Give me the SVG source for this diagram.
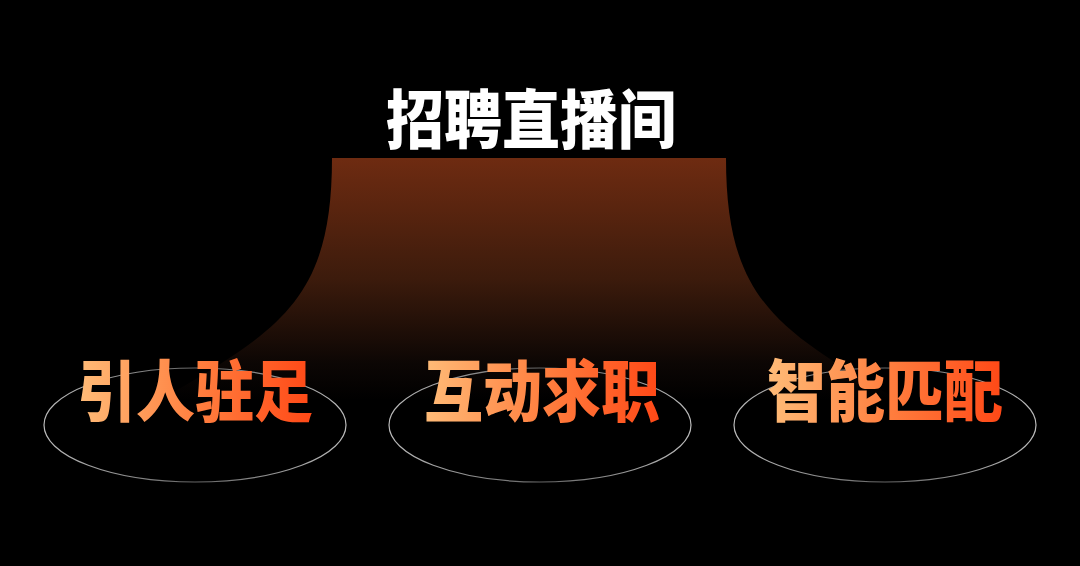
<svg xmlns="http://www.w3.org/2000/svg" width="1080" height="566" viewBox="0 0 1080 566">
<defs>
<linearGradient id="cone" x1="0" y1="158" x2="0" y2="400" gradientUnits="userSpaceOnUse">
<stop offset="0" stop-color="#6E2B11"/>
<stop offset="0.5" stop-color="#3C1B0C"/>
<stop offset="0.85" stop-color="#0C0604"/>
<stop offset="1" stop-color="#000000"/>
</linearGradient>
<linearGradient id="txt" x1="0" y1="0" x2="1" y2="0">
<stop offset="0" stop-color="#FFBC78"/>
<stop offset="0.5" stop-color="#FF8040"/>
<stop offset="1" stop-color="#FF4816"/>
</linearGradient>
<linearGradient id="ring" x1="0" y1="0" x2="1" y2="0">
<stop offset="0" stop-color="#BBBBBB"/>
<stop offset="0.5" stop-color="#666666"/>
<stop offset="1" stop-color="#BBBBBB"/>
</linearGradient>
</defs>
<style>
.title{font-family:"Noto Sans CJK SC","Noto Sans",sans-serif;font-weight:900;font-size:58px;fill:#FFFFFF;text-anchor:middle}
.label{font-family:"Noto Sans CJK SC","Noto Sans",sans-serif;font-weight:900;font-size:59px;fill:url(#txt);text-anchor:middle}
.ring{fill:none;stroke:url(#ring);stroke-width:1.2}
</style>
<rect x="0" y="0" width="1080" height="566" fill="#000000"/>
<g id="hub">
<path d="M332,158 H726 C726,300 778,330 898,400 L160,400 C280,330 332,300 332,158 Z" fill="url(#cone)"/>
<text class="title" transform="translate(531,143) scale(1,1.1)">招聘直播间</text>
</g>
<g id="connectors"></g>
<g id="node-1">
<ellipse class="ring" cx="195" cy="425" rx="151" ry="57"/>
<text class="label" transform="translate(195,416) scale(1,1.13)">引人驻足</text>
</g>
<g id="node-2">
<ellipse class="ring" cx="540" cy="425" rx="151" ry="57"/>
<text class="label" transform="translate(542,416) scale(1,1.13)">互动求职</text>
</g>
<g id="node-3">
<ellipse class="ring" cx="885" cy="425" rx="151" ry="57"/>
<text class="label" transform="translate(885,416) scale(1,1.13)">智能匹配</text>
</g>
</svg>
